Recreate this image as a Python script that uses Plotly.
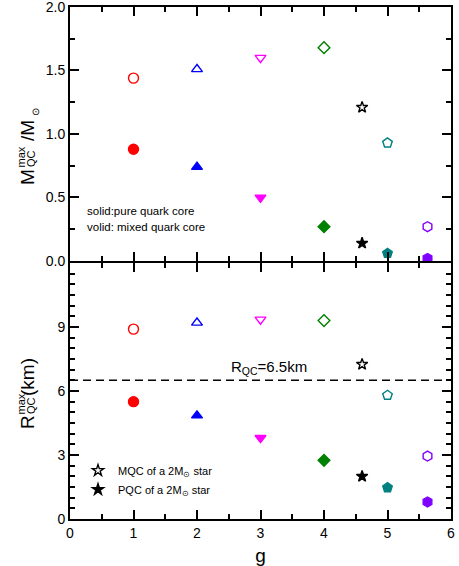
import plotly.graph_objects as go

# g values of the seven parameter sets
g = [1, 2, 3, 4, 4.6, 5, 5.63]

# maximum quark-core mass (in solar masses): mixed (open) and pure (solid) cores
m_mixed = [1.44, 1.51, 1.60, 1.68, 1.21, 0.93, 0.27]
m_pure = [0.88, 0.74, 0.50, 0.27, 0.14, 0.06, 0.02]

# maximum quark-core radius (km): mixed (open) and pure (solid) cores
r_mixed = [8.9, 9.2, 9.35, 9.3, 7.25, 5.8, 2.95]
r_pure = [5.5, 4.85, 3.8, 2.75, 2.0, 1.47, 0.8]

# reference radius line
r_limit = 6.5

x_ticks = [0, 1, 2, 3, 4, 5, 6]
m_ticks = [0.0, 0.5, 1.0, 1.5, 2.0]
r_ticks = [0, 3, 6, 9]

colors = ["#ff0000", "#0000ff", "#ff00ff", "#008000", "#000000", "#008080", "#8000ff"]
symbols = ["circle", "triangle-up", "triangle-down", "diamond", "star", "pentagon", "hexagon"]
sizes = [10, 9.5, 9.5, 9, 8.5, 10, 10]

STAR = 4
legend_names = ["MQC of a 2M<sub>⊙</sub> star", "PQC of a 2M<sub>⊙</sub> star"]

FONT = "Arial, Liberation Sans, sans-serif"

# plot-area geometry in pixels (for placing the rotated axis titles)
W, H = 459, 566
ML, MR, MT, MB = 70, 8, 7, 47
PW, PH = W - ML - MR, H - MT - MB
SPLIT = 0.502
LW = 2  # frame line width
# axis lines are drawn outside the plot area, so leave a line-width gap
# between the panels to make the shared border a single line
GAP = (LW / 2) / PH


def px(xp, yp):
    return (xp - ML) / PW, (H - MB - yp) / PH


fig = go.Figure()

panels = [("x", "y", m_mixed, m_pure), ("x2", "y2", r_mixed, r_pure)]
for xa, ya, mixed, pure in panels:
    for i in range(len(g)):
        for vals, filled in ((mixed, False), (pure, True)):
            sym = symbols[i] if filled else symbols[i] + "-open"
            show = (xa == "x2" and i == STAR)
            trace = dict(
                x=[g[i]], y=[vals[i]], xaxis=xa, yaxis=ya,
                mode="markers",
                marker=dict(symbol=sym, size=sizes[i], color=colors[i],
                            line=dict(width=1.4, color=colors[i])),
                showlegend=show,
                hoverinfo="x+y",
            )
            if show:
                trace["name"] = legend_names[1 if filled else 0]
            fig.add_trace(go.Scatter(**trace))

tick_common = dict(
    showline=True, linecolor="black", linewidth=LW, mirror="ticks",
    ticks="inside", ticklen=9, tickwidth=1.5, tickcolor="black",
    showgrid=False, zeroline=False, automargin=False,
    ticklabeloverflow="allow",
    tickfont=dict(family=FONT, size=14, color="black"),
)


def minor(step):
    return dict(tickmode="linear", tick0=0, dtick=step, ticks="inside",
                ticklen=5, tickwidth=1.5, tickcolor="black", showgrid=False)


fig.update_layout(
    width=W, height=H,
    margin=dict(l=ML, r=MR, t=MT, b=MB),
    paper_bgcolor="white", plot_bgcolor="white",
    font=dict(family=FONT, color="black"),
    showlegend=True,
    legend=dict(x=px(78, 0)[0], y=px(0, 456)[1], xanchor="left", yanchor="top",
                bgcolor="rgba(0,0,0,0)", font=dict(family=FONT, size=11, color="black"),
                itemwidth=30, tracegroupgap=0),
    xaxis=dict(domain=[0, 1], anchor="y", range=[0, 6], tickvals=x_ticks,
               showticklabels=False, minor=minor(0.5), **tick_common),
    xaxis2=dict(domain=[0, 1], anchor="y2", range=[0, 6], tickvals=x_ticks,
                minor=minor(0.5),
                title=dict(text="g", font=dict(family=FONT, size=19), standoff=12),
                **tick_common),
    yaxis=dict(domain=[SPLIT + GAP, 1], anchor="x", range=[0, 2], tickvals=m_ticks,
               tickformat=".1f", minor=minor(0.25), **tick_common),
    yaxis2=dict(domain=[0, SPLIT - GAP], anchor="x2", range=[0, 12], tickvals=r_ticks,
                minor=minor(0.5), **tick_common),
)

# dashed reference line across the lower panel
fig.add_shape(type="line", xref="x2 domain", yref="y2", x0=0, x1=1,
              y0=r_limit, y1=r_limit,
              line=dict(color="black", width=1.5, dash="8px,5px"))

annotations = [
    dict(text="R<sub>QC</sub>=6.5km", xref="x2", yref="y2", x=2.5, y=r_limit + 0.6,
         xanchor="left", yanchor="middle", showarrow=False,
         font=dict(family=FONT, size=15, color="black")),
    dict(text="solid:pure quark core", xref="x", yref="y", x=0.24, y=0.395,
         xanchor="left", yanchor="middle", showarrow=False,
         font=dict(family=FONT, size=11.5, color="black")),
    dict(text="volid: mixed quark core", xref="x", yref="y", x=0.24, y=0.27,
         xanchor="left", yanchor="middle", showarrow=False,
         font=dict(family=FONT, size=11.5, color="black")),
]

# rotated y-axis titles assembled from pieces so that the super- and
# subscripts stack on top of each other
title_pieces = [
    # top panel: M^max_QC / M_sun
    ("M", 27, 177, 19),
    ("max", 20.5, 157, 11),
    ("QC", 31, 159, 11),
    ("/M", 27, 131, 19),
    ("⊙", 35, 112, 10),
    # bottom panel: R^max_QC (km)
    ("R", 27, 422, 19),
    ("max", 20.5, 404, 11),
    ("QC", 31, 406, 11),
    ("(km)", 27, 377, 19),
]
for text, xp, yp, size in title_pieces:
    xx, yy = px(xp, yp)
    annotations.append(dict(
        text=text, xref="paper", yref="paper", x=xx, y=yy,
        xanchor="center", yanchor="middle", textangle=-90, showarrow=False,
        font=dict(family=FONT, size=size, color="black"),
    ))

fig.update_layout(annotations=annotations)

fig.write_html("out.html")
